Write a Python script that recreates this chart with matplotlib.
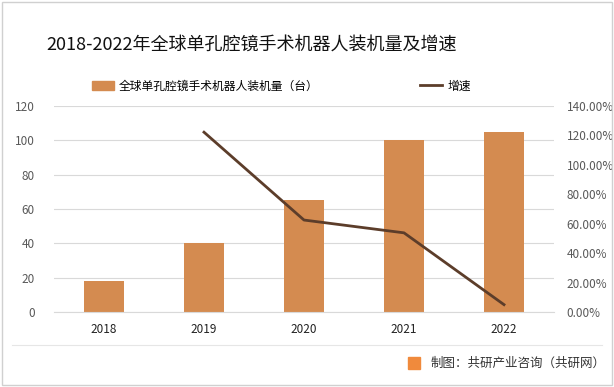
import matplotlib.pyplot as plt
from matplotlib.lines import Line2D
from matplotlib.patches import Patch, Rectangle

plt.rcParams['font.family'] = ['Noto Sans CJK SC', 'DejaVu Sans']

years = ['2018', '2019', '2020', '2021', '2022']
installs = [18, 40, 65, 100, 105]
growth = [None, 122.2, 62.5, 53.8, 5.0]

bar_color = '#D48B50'
line_color = '#5C3D2A'
tick_color = '#595959'

fig = plt.figure(figsize=(6.14, 3.87), dpi=100)
fig.patches.append(Rectangle((0.003, 0.005), 0.994, 0.99, transform=fig.transFigure,
                             fill=False, edgecolor='#D0D0D0', linewidth=1))

ax = fig.add_axes([54 / 614, 1 - 312 / 387, 500 / 614, 206 / 387])
x = list(range(len(years)))
ax.bar(x, installs, width=0.4, color=bar_color, zorder=2)
ax.set_ylim(0, 120)
ax.set_yticks(range(0, 121, 20))
ax.set_xlim(-0.5, 4.5)
ax.set_xticks(x)
ax.set_xticklabels(years)
ax.grid(axis='y', color='#D9D9D9', linewidth=0.8, zorder=0)
for s in ['top', 'right', 'left']:
    ax.spines[s].set_visible(False)
ax.spines['bottom'].set_color('#D9D9D9')
ax.tick_params(axis='both', length=0, labelsize=8.5, colors=tick_color)
ax.tick_params(axis='x', colors='#222222', pad=8)
ax.tick_params(axis='y', pad=14)

ax2 = ax.twinx()
gx = [i for i, g in zip(x, growth) if g is not None]
gy = [g for g in growth if g is not None]
ax2.plot(gx, gy, color=line_color, linewidth=2, zorder=3)
ax2.set_ylim(0, 140)
ax2.set_yticks(range(0, 141, 20))
ax2.set_yticklabels(['%.2f%%' % v for v in range(0, 141, 20)])
ax2.tick_params(axis='y', length=0, labelsize=8.5, colors=tick_color, pad=9)
for s in ['top', 'right', 'left', 'bottom']:
    ax2.spines[s].set_visible(False)

fig.text(252 / 614, 1 - 45 / 387, '2018-2022年全球单孔腔镜手术机器人装机量及增速',
         ha='center', va='center', fontsize=13, color='#111111')

handles = [Patch(color=bar_color), Line2D([], [], color=line_color, linewidth=2)]
labels = ['全球单孔腔镜手术机器人装机量（台）', '增速']
fig.legend(handles, labels, loc='center left', bbox_to_anchor=(81 / 614, 1 - 86 / 387),
           ncol=2, frameon=False, fontsize=8.5, columnspacing=8.6,
           handlelength=1.9, handleheight=0.7, handletextpad=0.4)

fig.add_artist(Line2D([0.02, 0.98], [1 - 345 / 387, 1 - 345 / 387],
                      transform=fig.transFigure, color='#E6E6E6', linewidth=0.8))
fig.patches.append(Rectangle((408 / 614, 1 - 369 / 387), 12 / 614, 12 / 387,
                             transform=fig.transFigure, color='#F08A3C'))
fig.text(431 / 614, 1 - 363 / 387, '制图：共研产业咨询（共研网）',
         ha='left', va='center', fontsize=9, color='#333333')

fig.savefig('out.png', dpi=100)
